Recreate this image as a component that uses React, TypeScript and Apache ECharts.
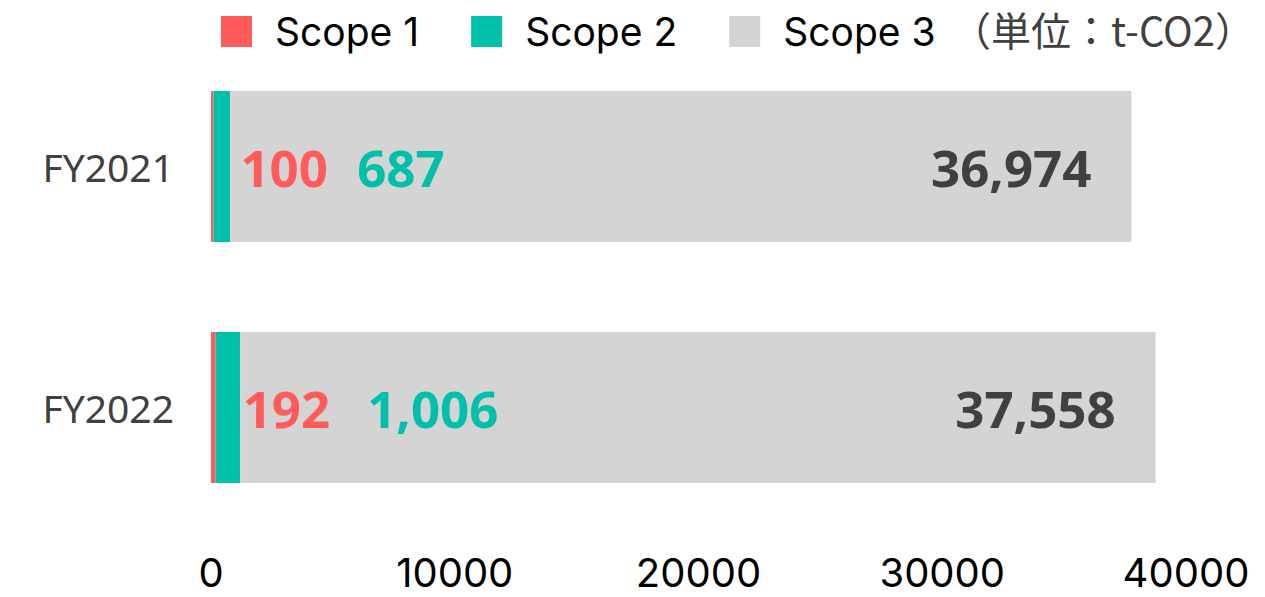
import React, { useEffect, useRef } from "react";
import * as echarts from "echarts";

const categories = ["FY2021", "FY2022"];
const scope1 = [100, 192];
const scope2 = [687, 1006];
const scope3 = [36974, 37558];
const xTicks = { min: 0, max: 40000, interval: 10000 };
const seriesNames = ["Scope 1", "Scope 2", "Scope 3"];
const unitText = "（単位：t-CO2）";

const COLORS = ["#FF5B5B", "#00C0AA", "#D4D4D4"];
const FONT = "'Noto Sans', 'Noto Sans CJK JP', sans-serif";
const FONT2 = "Inter, 'Noto Sans', sans-serif";

const fmt = (v: number) => v.toLocaleString("en-US");

export default function App() {
  const ref = useRef<HTMLDivElement>(null);
  useEffect(() => {
    if (!ref.current) return;
    const chart = echarts.init(ref.current, null, { renderer: "svg" });
    const labelBase = {
      show: true,
      fontFamily: FONT,
      fontSize: 51,
      fontWeight: "bold" as const,
      formatter: (p: any) => fmt(p.value),
    };
    chart.setOption({
      animation: false,
      textStyle: { fontFamily: FONT },
      legend: {
        left: 216,
        top: 7,
        itemWidth: 31,
        itemHeight: 31,
        itemGap: 52,
        icon: "rect",
        data: seriesNames,
        textStyle: {
          fontFamily: FONT2,
          fontSize: 39,
          color: "#000",
          padding: [0, 0, 0, 18],
        },
      },
      graphic: [
        {
          type: "text",
          right: 10,
          top: 9,
          style: {
            text: unitText,
            fontFamily: "'Noto Sans CJK JP', sans-serif",
            fontSize: 40,
            fill: "#404040",
          },
        },
      ],
      grid: { left: 211, right: 79, top: 46, bottom: 69, containLabel: false },
      xAxis: {
        type: "value",
        min: xTicks.min,
        max: xTicks.max,
        interval: xTicks.interval,
        axisLine: { show: false },
        axisTick: { show: false },
        splitLine: { show: false },
        axisLabel: {
          fontFamily: FONT2,
          fontSize: 40,
          color: "#000",
          margin: 24,
          formatter: (v: number) => String(v),
        },
      },
      yAxis: {
        type: "category",
        data: categories,
        inverse: true,
        axisLine: { show: false },
        axisTick: { show: false },
        axisLabel: {
          fontFamily: FONT,
          fontSize: 39,
          color: "#404040",
          margin: 37,
        },
      },
      series: [
        {
          name: seriesNames[0],
          type: "bar",
          stack: "total",
          barWidth: "62.6%",
          data: scope1,
          itemStyle: { color: COLORS[0] },
          label: { ...labelBase, position: "right", distance: 27, color: COLORS[0] },
        },
        {
          name: seriesNames[1],
          type: "bar",
          stack: "total",
          data: scope2,
          itemStyle: { color: COLORS[1] },
          label: { ...labelBase, position: "right", distance: 127, color: COLORS[1] },
        },
        {
          name: seriesNames[2],
          type: "bar",
          stack: "total",
          data: scope3,
          itemStyle: { color: COLORS[2] },
          label: { ...labelBase, position: "insideRight", distance: 40, color: "#404040" },
        },
      ],
    });
    return () => chart.dispose();
  }, []);
  return <div ref={ref} style={{ width: 1265, height: 597, position: "absolute", left: 0, top: 0 }} />;
}
